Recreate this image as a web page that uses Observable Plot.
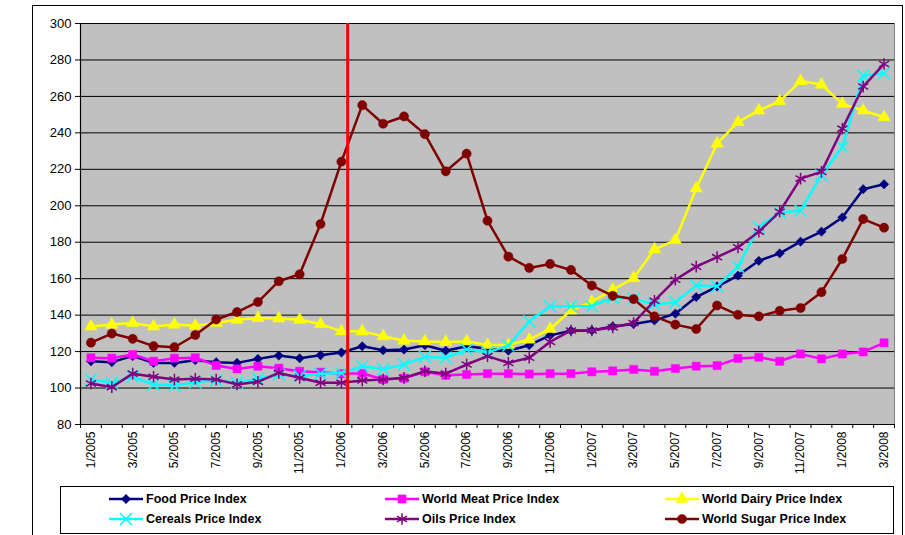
<!DOCTYPE html>
<html><head><meta charset="utf-8">
<script src="https://cdn.jsdelivr.net/npm/d3@7"></script>
<script src="https://cdn.jsdelivr.net/npm/@observablehq/plot@0.6"></script>
<style>
body{margin:0;background:#fff;font-family:"Liberation Sans",Arial,sans-serif;}
#wrap{position:relative;width:905px;height:535px;overflow:hidden;background:#fff;}
#frame{position:absolute;left:32px;top:5px;width:871px;height:560px;border:1.5px solid #000;box-sizing:border-box;}
#chart{position:absolute;left:0;top:0;}
#legend{position:absolute;left:60px;top:486px;width:834px;height:48px;border:1px solid #000;box-sizing:border-box;background:#fff;}
.item{position:absolute;height:16px;display:flex;align-items:center;font-size:12.5px;font-weight:bold;color:#000;white-space:nowrap;}
.item svg{margin-right:2px;}
</style></head>
<body>
<div id="wrap"><div id="frame"></div><div id="chart"></div><div id="legend"></div></div>
<script>
const months = ["1/2005","2/2005","3/2005","4/2005","5/2005","6/2005","7/2005","8/2005","9/2005","10/2005","11/2005","12/2005",
"1/2006","2/2006","3/2006","4/2006","5/2006","6/2006","7/2006","8/2006","9/2006","10/2006","11/2006","12/2006",
"1/2007","2/2007","3/2007","4/2007","5/2007","6/2007","7/2007","8/2007","9/2007","10/2007","11/2007","12/2007",
"1/2008","2/2008","3/2008"];
const tickLabels = ["1/2005","3/2005","5/2005","7/2005","9/2005","11/2005","1/2006","3/2006","5/2006","7/2006","9/2006","11/2006",
"1/2007","3/2007","5/2007","7/2007","9/2007","11/2007","1/2008","3/2008"];
const yTicks = [80,100,120,140,160,180,200,220,240,260,280,300];
const seriesNames = ["Food Price Index","World Meat Price Index","World Dairy Price Index","Cereals Price Index","Oils Price Index","World Sugar Price Index"];
const food = [114.7,114.2,117.5,113.8,113.8,115.3,114.2,113.8,116.0,117.8,116.3,118.0,119.5,122.9,120.7,121.1,123.5,120.5,122.9,121.5,120.5,123.5,128.9,131.5,131.6,133.8,135.1,137.1,140.8,149.9,155.7,161.7,169.8,173.9,180.3,185.8,193.6,209.1,211.8];
const meat = [116.6,116.4,118.4,114.7,116.4,116.6,112.4,110.5,112.0,110.9,109.2,108.7,107.9,108.1,104.7,105.4,108.9,107.0,107.4,107.9,107.9,107.7,107.9,107.9,108.9,109.4,110.2,109.2,110.7,112.0,112.3,116.2,116.9,114.7,118.7,116.0,118.7,119.8,124.8];
const dairy = [133.8,134.8,135.7,133.8,134.8,134.2,135.7,137.5,138.4,138.2,137.5,135.1,131.1,131.1,128.4,126.0,125.6,125.3,125.6,123.6,123.6,126.6,132.4,142.6,147.3,154.0,160.3,176.1,181.2,209.5,234.1,245.9,252.3,257.4,268.4,266.5,255.9,252.3,248.6];
const cereals = [104.7,102.9,106.2,101.9,101.4,103.2,104.3,102.9,105.1,107.4,106.5,107.9,108.3,112.0,110.5,112.9,117.1,116.6,121.1,119.6,123.3,136.6,144.9,144.9,144.9,149.6,149.0,145.9,147.0,156.2,155.8,166.6,188.2,196.3,197.3,216.8,232.2,271.4,272.7];
const oils = [102.5,100.5,107.9,106.2,104.7,105.1,104.7,102.0,103.4,108.3,105.6,102.9,102.9,104.2,104.7,105.6,109.2,107.9,112.9,117.5,113.8,116.6,125.3,131.6,131.6,133.3,135.7,147.9,159.4,166.6,171.8,177.2,185.8,196.7,214.9,218.6,242.3,265.4,277.8];
const sugar = [124.9,129.9,127.0,123.0,122.4,129.1,137.6,141.7,147.2,158.6,162.4,190.0,224.2,255.2,245.0,249.0,239.3,218.9,228.6,191.8,172.1,165.9,168.1,164.8,156.2,150.6,148.8,139.3,134.8,132.4,145.3,140.2,139.3,142.4,143.9,152.6,170.8,192.7,188.0];
const eventIndex = 12.3; // position of the red marker line (between 1/2006 and 2/2006)

const styles = [
  {values: food,    color: "#000080", symbol: "diamond2", r: 4.2, filled: true},
  {values: meat,    color: "#FF00FF", symbol: "square",   r: 4.6, filled: true},
  {values: dairy,   color: "#FFFF00", symbol: "triangle", r: 4.6, filled: true},
  {values: cereals, color: "#00FFFF", symbol: "times",    r: 5.5, filled: false},
  {values: oils,    color: "#800080", symbol: "asterisk", r: 5.5, filled: false},
  {values: sugar,   color: "#800000", symbol: "circle",   r: 4.6, filled: true}
];

const marks = [
  Plot.frame({fill: "#C0C0C0", stroke: "#808080"}),
  Plot.ruleY(yTicks, {stroke: "#000", strokeWidth: 1}),
  Plot.ruleX([-0.5], {stroke: "#000", strokeWidth: 1.2}),
  Plot.ruleY([80], {stroke: "#000", strokeWidth: 1.2}),
  Plot.axisY({ticks: yTicks, tickSize: 5, tickPadding: 4, fontSize: 13, label: null, tickFormat: d => String(d)}),
  Plot.axisX({ticks: d3.range(-0.5, months.length, 1), tickSize: 4, label: null, tickFormat: () => ""}),
  Plot.axisX({ticks: tickLabels.map(l => months.indexOf(l)), tickFormat: i => months[i], tickRotate: -90, tickSize: 0, tickPadding: 7, fontSize: 12, label: null})
];
styles.forEach((s, k) => {
  const rows = s.values.map((v, i) => ({i, v, name: seriesNames[k]}));
  marks.push(Plot.line(rows, {x: "i", y: "v", stroke: s.color, strokeWidth: 2.5, curve: "linear"}));
  marks.push(Plot.dot(rows, s.filled
    ? {x: "i", y: "v", symbol: s.symbol, r: s.r, fill: s.color, stroke: s.color, strokeWidth: 0.5}
    : {x: "i", y: "v", symbol: s.symbol, r: s.r, fill: "none", stroke: s.color, strokeWidth: 1.5}));
});
marks.push(Plot.ruleX([eventIndex], {y1: 80, y2: 300, stroke: "#FF0000", strokeWidth: 3}));

const chart = Plot.plot({
  width: 905, height: 484,
  marginLeft: 80, marginRight: 11, marginTop: 23, marginBottom: 60,
  style: {fontFamily: '"Liberation Sans", Arial, sans-serif', color: "#000", background: "transparent", overflow: "visible"},
  x: {type: "linear", domain: [-0.5, months.length - 0.5], axis: null, label: null},
  y: {domain: [80, 300], axis: null, label: null},
  marks
});
document.getElementById("chart").appendChild(chart);

// legend
const legend = document.getElementById("legend");
const pos = [[47, 4], [323, 4], [603, 4], [47, 24], [323, 24], [603, 24]];
const symMap = {diamond2: d3.symbolDiamond2, square: d3.symbolSquare, triangle: d3.symbolTriangle, times: d3.symbolTimes, asterisk: d3.symbolAsterisk, circle: d3.symbolCircle};
styles.forEach((s, k) => {
  const div = document.createElement("div");
  div.className = "item";
  div.style.left = pos[k][0] + "px";
  div.style.top = pos[k][1] + "px";
  const svg = d3.create("svg").attr("width", 36).attr("height", 16);
  svg.append("line").attr("x1", 1).attr("x2", 35).attr("y1", 8).attr("y2", 8).attr("stroke", s.color).attr("stroke-width", 2.5);
  svg.append("path").attr("transform", "translate(18,8)")
    .attr("d", d3.symbol(symMap[s.symbol], Math.PI * s.r * s.r)())
    .attr("fill", s.filled ? s.color : "none").attr("stroke", s.color).attr("stroke-width", s.filled ? 0.5 : 1.5);
  div.appendChild(svg.node());
  const span = document.createElement("span");
  span.textContent = seriesNames[k];
  div.appendChild(span);
  legend.appendChild(div);
});
</script>
</body></html>
